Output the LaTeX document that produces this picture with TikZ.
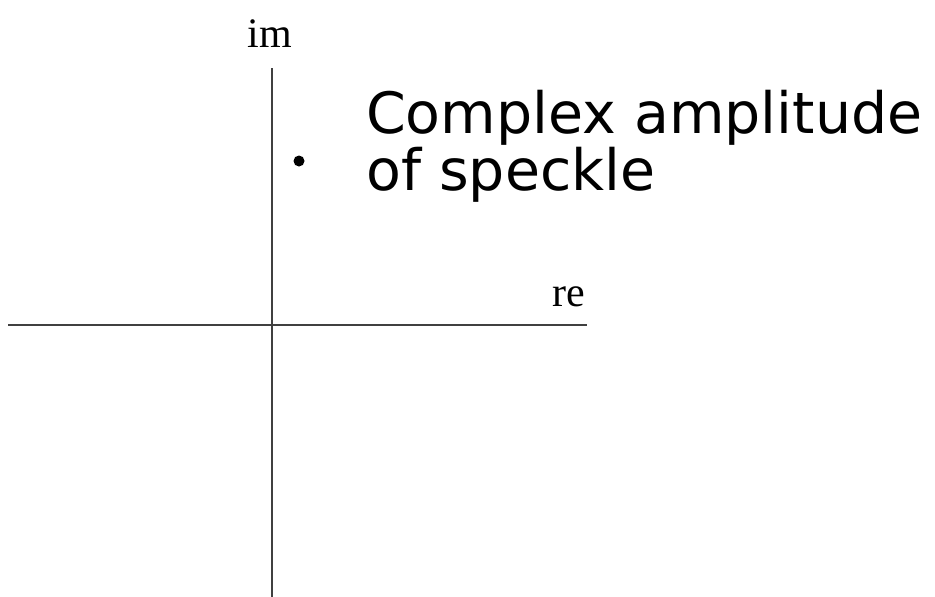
\documentclass[tikz,border=0pt]{standalone}
\usepackage{fontspec}
\setmainfont{Liberation Serif}
\newfontfamily\dejavu{DejaVu Sans}
\tikzset{
  axis/.style={line width=1.6pt, draw=black!75},
  dotmark/.style={circle, fill=black, inner sep=0pt, minimum size=11pt},
  axlabel/.style={inner sep=0pt, font=\fontsize{42}{44}\selectfont},
  bigtext/.style={inner sep=0pt, font=\dejavu\fontsize{57}{58}\selectfont}
}
\begin{document}
\begin{tikzpicture}[x=1pt,y=-1pt]
\useasboundingbox[fill=white] (0,0) rectangle (935,597);
\coordinate (vtop) at (272,68);
\coordinate (vbot) at (272,597);
\coordinate (hl) at (8,325);
\coordinate (hr) at (587,325);
\draw[axis] (vtop) -- (vbot);
\draw[axis] (hl) -- (hr);
\node[dotmark] (pt) at (299,161) {};
\node[axlabel, anchor=base] (im) at (270,47) {im};
\node[axlabel, anchor=base east] (re) at (585,306) {re};
\node[bigtext, anchor=base west] (t1) at (366,133) {Complex amplitude};
\node[bigtext, anchor=base west] (t2) at (366,190) {of speckle};
\end{tikzpicture}
\end{document}
